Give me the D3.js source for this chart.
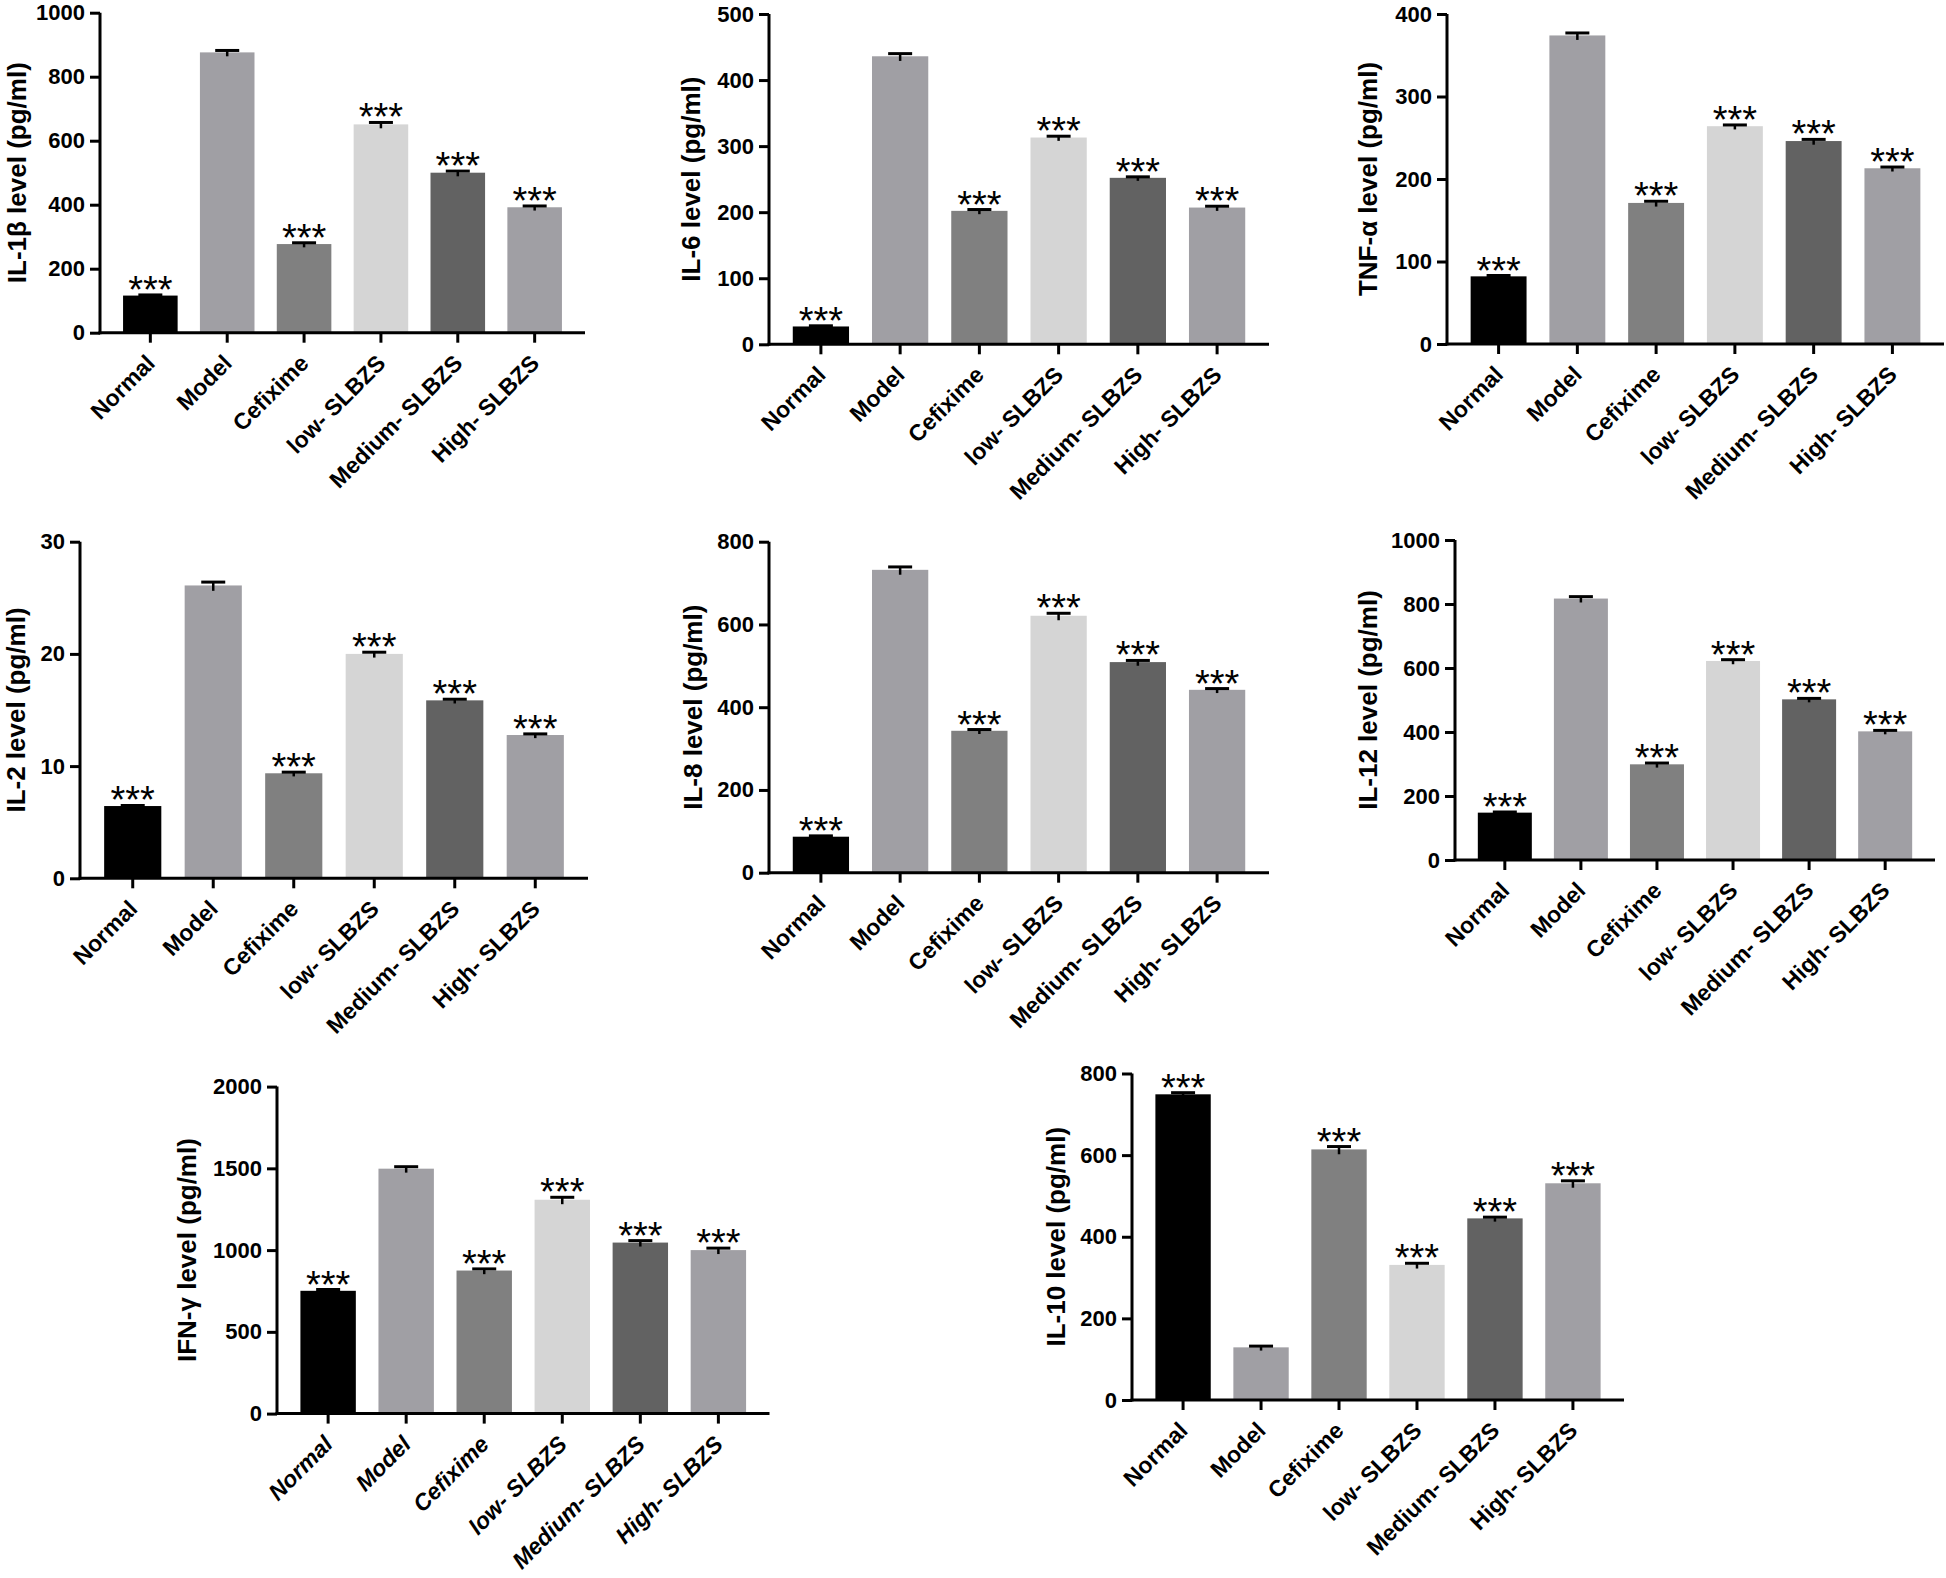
<!DOCTYPE html>
<html><head><meta charset="utf-8">
<script src="https://cdn.jsdelivr.net/npm/d3@7"></script>
<style>
body{margin:0;background:#fff;}
svg{display:block;}
text{font-family:"Liberation Sans",Arial,sans-serif;}
</style></head>
<body>
<svg id="c" width="1946" height="1578"></svg>
<script>
// ---------- data ----------
const categories = ["Normal","Model","Cefixime","low- SLBZS","Medium- SLBZS","High- SLBZS"];
const significance = ["***","","***","***","***","***"];

const il1bMean = [116, 876, 277, 651, 500, 392];
const il1bSD   = [2, 6, 4, 6, 5, 4];
const il6Mean  = [27, 436, 202, 313, 252, 207];
const il6SD    = [1, 4, 2, 2, 1.5, 2];
const tnfMean  = [82, 374, 171, 264, 246, 213];
const tnfSD    = [1, 3, 2, 1.5, 2, 1.5];
const il2Mean  = [6.44, 26.1, 9.36, 20.0, 15.86, 12.77];
const il2SD    = [0.05, 0.3, 0.1, 0.15, 0.1, 0.1];
const il8Mean  = [87, 732, 343, 621, 509, 442];
const il8SD    = [2, 7, 3, 6, 4, 3];
const il12Mean = [148, 817, 299, 622, 502, 402];
const il12SD   = [2, 6, 4, 4, 3, 3];
const ifngMean = [751, 1498, 875, 1308, 1046, 1000];
const ifngSD   = [8, 12, 10, 15, 12, 12];
const il10Mean = [749, 129, 614, 331, 445, 531];
const il10SD   = [4, 3, 7, 4, 3, 6];

const il1bTicks = [0, 200, 400, 600, 800, 1000];
const il6Ticks  = [0, 100, 200, 300, 400, 500];
const tnfTicks  = [0, 100, 200, 300, 400];
const il2Ticks  = [0, 10, 20, 30];
const il8Ticks  = [0, 200, 400, 600, 800];
const il12Ticks = [0, 200, 400, 600, 800, 1000];
const ifngTicks = [0, 500, 1000, 1500, 2000];
const il10Ticks = [0, 200, 400, 600, 800];

const yTitles = ["IL-1β level (pg/ml)","IL-6 level (pg/ml)","TNF-α level (pg/ml)","IL-2 level (pg/ml)",
                 "IL-8 level (pg/ml)","IL-12 level (pg/ml)","IFN-γ level (pg/ml)","IL-10 level (pg/ml)"];

// ---------- styles / layout ----------
const barColors = ["#000000","#a09fa4","#808080","#d5d5d5","#626262","#a09fa4"];

const panels = [
  {title:yTitles[0], mean:il1bMean, sd:il1bSD, ticks:il1bTicks, x0:100,  x1:585,  yTop:12.7,  yZero:332.7, tOff:74},
  {title:yTitles[1], mean:il6Mean,  sd:il6SD,  ticks:il6Ticks,  x0:769,  x1:1269, yTop:14,    yZero:344.3, tOff:69.4},
  {title:yTitles[2], mean:tnfMean,  sd:tnfSD,  ticks:tnfTicks,  x0:1447, x1:1944, yTop:14,    yZero:344,   tOff:70.4},
  {title:yTitles[3], mean:il2Mean,  sd:il2SD,  ticks:il2Ticks,  x0:80,   x1:588,  yTop:541.7, yZero:878.3, tOff:55.4},
  {title:yTitles[4], mean:il8Mean,  sd:il8SD,  ticks:il8Ticks,  x0:769,  x1:1269, yTop:541.7, yZero:872.7, tOff:67.4},
  {title:yTitles[5], mean:il12Mean, sd:il12SD, ticks:il12Ticks, x0:1455, x1:1935, yTop:540,   yZero:860,   tOff:78.4},
  {title:yTitles[6], mean:ifngMean, sd:ifngSD, ticks:ifngTicks, x0:277,  x1:769.5,yTop:1086.6,yZero:1413.6,tOff:81.4, italic:true},
  {title:yTitles[7], mean:il10Mean, sd:il10SD, ticks:il10Ticks, x0:1132, x1:1624, yTop:1073.5,yZero:1400,  tOff:67.4}
];

const svg = d3.select("#c");
svg.append("rect").attr("width",1946).attr("height",1578).attr("fill","#fff");

panels.forEach(p => {
  const g = svg.append("g");
  const x = d3.scaleBand().domain(categories).range([p.x0, p.x1]).paddingInner(0.29).paddingOuter(0.3);
  const y = d3.scaleLinear().domain([0, p.ticks[p.ticks.length-1]]).range([p.yZero, p.yTop]);
  const cx = d => x(d) + x.bandwidth()/2;

  // bars
  g.selectAll("rect.bar").data(categories).enter().append("rect")
    .attr("x", d => x(d)).attr("width", x.bandwidth())
    .attr("y", (d,i) => y(p.mean[i])).attr("height", (d,i) => p.yZero - y(p.mean[i]))
    .attr("fill", (d,i) => barColors[i]);

  // error bars
  const eb = g.selectAll("g.eb").data(categories).enter().append("g");
  eb.append("line")
    .attr("x1", cx).attr("x2", cx)
    .attr("y1", (d,i) => y(p.mean[i] - p.sd[i]) + 2).attr("y2", (d,i) => y(p.mean[i] + p.sd[i]))
    .attr("stroke","#000").attr("stroke-width",2.5);
  eb.append("line")
    .attr("x1", d => cx(d) - 12).attr("x2", d => cx(d) + 12)
    .attr("y1", (d,i) => y(p.mean[i] + p.sd[i])).attr("y2", (d,i) => y(p.mean[i] + p.sd[i]))
    .attr("stroke","#000").attr("stroke-width",3);

  // significance stars
  g.selectAll("text.sig").data(categories).enter().append("text")
    .attr("x", cx)
    .attr("y", (d,i) => y(p.mean[i] + p.sd[i]) + 8)
    .attr("text-anchor","middle")
    .style("font-size","38px")
    .text((d,i) => significance[i]);

  // y axis
  const ya = g.append("g").attr("transform", `translate(${p.x0},0)`)
    .call(d3.axisLeft(y).tickValues(p.ticks).tickSize(10).tickSizeOuter(0).tickPadding(5).tickFormat(d3.format("d")));
  ya.select(".domain").attr("stroke-width",3).attr("d", `M0,${p.yTop}V${p.yZero+1.5}`);
  ya.selectAll(".tick line").attr("stroke-width",3);
  ya.selectAll(".tick text").style("font-size","22px").style("font-weight","bold").attr("fill","#000");

  // x axis
  const xa = g.append("g").attr("transform", `translate(0,${p.yZero})`)
    .call(d3.axisBottom(x).tickSize(10).tickSizeOuter(0));
  xa.select(".domain").attr("stroke-width",3).attr("d", `M${p.x0-1.5},0H${p.x1}`);
  xa.selectAll(".tick line").attr("stroke-width",3);
  xa.selectAll(".tick text")
    .attr("y", null).attr("dy", null)
    .attr("text-anchor","end")
    .attr("transform","translate(6,32) rotate(-45)")
    .style("font-size","23px").style("font-weight","bold")
    .style("font-style", p.italic ? "italic" : "normal")
    .attr("fill","#000");

  // y title
  g.append("text")
    .attr("transform", `translate(${p.x0 - p.tOff},${(p.yTop + p.yZero)/2}) rotate(-90)`)
    .attr("text-anchor","middle")
    .style("font-size","26px").style("font-weight","bold")
    .text(p.title);
});
</script>
</body></html>
